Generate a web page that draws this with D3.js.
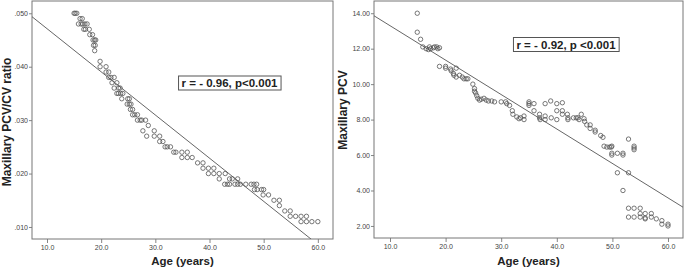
<!DOCTYPE html>
<html>
<head>
<meta charset="utf-8">
<script src="https://cdn.jsdelivr.net/npm/d3@7"></script>
<style>
  body { margin: 0; background: #fff; }
  svg { display: block; font-family: "Liberation Sans", Arial, sans-serif; }
</style>
</head>
<body>
<svg id="chart" width="685" height="268"></svg>
<script>
// Shared x axis
const xTicks = [10, 20, 30, 40, 50, 60];

// Left panel: Maxillary PCV/CV ratio vs age
const ratioTicks = [0.010, 0.020, 0.030, 0.040, 0.050];
const ratioPoints = [
  [15.0, .050], [15.2, .050], [15.5, .050],
  [16.1, .049], [16.5, .049],
  [15.8, .048], [16.3, .048], [16.6, .048], [17.0, .048], [17.4, .048],
  [16.8, .047], [17.1, .047], [17.8, .047],
  [17.9, .046], [18.4, .046],
  [18.5, .045], [18.8, .045], [19.0, .045],
  [18.6, .044], [18.9, .044],
  [18.8, .043],
  [19.8, .041],
  [19.8, .040], [20.9, .040],
  [20.9, .039], [21.4, .039],
  [21.4, .038], [21.8, .038], [22.4, .038],
  [22.0, .037], [22.9, .037],
  [22.4, .036], [23.2, .036], [23.5, .036],
  [22.9, .035], [23.2, .035], [23.6, .035], [24.0, .035],
  [23.8, .034], [24.9, .034], [25.2, .034],
  [24.8, .033], [25.2, .033], [25.5, .033],
  [25.4, .032], [25.8, .032],
  [25.8, .031], [26.2, .031], [26.7, .031],
  [26.7, .030], [27.2, .030], [27.5, .030], [28.2, .030],
  [28.7, .029],
  [27.7, .028], [29.8, .028],
  [28.4, .027], [29.8, .027], [30.8, .027],
  [30.8, .026], [31.4, .026],
  [31.8, .025], [32.2, .025], [32.8, .025],
  [33.4, .024], [33.8, .024], [34.9, .024], [35.9, .024],
  [34.9, .023], [35.9, .023], [36.8, .023],
  [37.8, .022], [38.8, .022],
  [38.8, .021], [39.8, .021], [40.8, .021],
  [39.8, .020], [40.8, .020], [41.8, .020], [42.9, .020],
  [41.8, .019], [43.7, .019], [44.2, .019], [45.2, .019],
  [42.8, .018], [43.3, .018], [43.7, .018], [44.7, .018], [45.2, .018],
  [45.7, .018], [46.7, .018], [47.7, .018], [48.2, .018], [48.7, .018],
  [48.3, .017], [48.8, .017], [49.6, .017], [50.0, .017],
  [49.9, .016], [50.9, .016],
  [51.9, .015], [52.9, .015],
  [52.9, .014],
  [53.9, .013], [54.9, .013],
  [54.9, .012], [55.9, .012], [56.9, .012], [57.9, .012],
  [56.9, .011], [57.9, .011], [58.9, .011], [60.0, .011]
];
const ratioFit = { intercept: 0.0552, slope: -0.000808 };

// Right panel: Maxillary PCV vs age
const pcvTicks = [2, 4, 6, 8, 10, 12, 14];
const pcvPoints = [
  [14.9, 14.0], [14.9, 12.93], [15.5, 12.53], [15.9, 12.1],
  [16.5, 12.0], [16.9, 11.95], [17.1, 12.1], [17.3, 12.0], [17.8, 12.05],
  [18.0, 12.1], [18.4, 12.1], [18.6, 12.0], [18.9, 12.05],
  [18.9, 11.0], [20.0, 11.0], [20.0, 10.9],
  [20.9, 10.85], [21.0, 10.75], [21.4, 10.6], [21.5, 10.5],
  [21.9, 10.9], [21.9, 10.4],
  [22.5, 10.5], [23.0, 10.4], [23.3, 10.3], [23.7, 10.3], [24.0, 10.3],
  [24.9, 10.0], [25.2, 9.75], [25.2, 9.6], [25.4, 9.5],
  [25.6, 9.35], [25.8, 9.2], [26.1, 9.1], [26.4, 9.15], [26.9, 9.2],
  [27.3, 9.1], [27.7, 9.05], [28.3, 9.05], [28.8, 9.0], [30.0, 9.0],
  [30.8, 9.0], [31.0, 8.9],
  [31.5, 8.8], [32.0, 8.5], [32.1, 8.3], [32.8, 8.15], [33.2, 8.05],
  [33.5, 8.1], [34.1, 8.0], [34.1, 8.2],
  [35.0, 9.0], [35.0, 8.9], [35.0, 8.8],
  [35.9, 8.9], [35.9, 8.5],
  [36.9, 8.3], [36.9, 8.1], [37.0, 8.0],
  [37.9, 8.9], [37.9, 8.2], [37.9, 8.0],
  [38.9, 9.05], [39.0, 8.1],
  [40.0, 8.9], [40.0, 8.5], [40.0, 8.0],
  [41.0, 8.95], [41.0, 8.5], [41.0, 8.3],
  [41.9, 8.3], [42.0, 8.1], [42.0, 8.0],
  [43.0, 8.1], [43.5, 8.1], [43.8, 8.1], [44.0, 8.0],
  [44.4, 8.3], [44.9, 8.05], [45.0, 7.9],
  [45.4, 7.7], [46.0, 7.7], [46.0, 7.5],
  [46.9, 7.4], [46.9, 7.3],
  [47.9, 7.1], [48.3, 7.0],
  [48.5, 6.5], [49.0, 6.45], [49.5, 6.45], [49.8, 6.45], [49.9, 6.5],
  [49.9, 6.1], [49.9, 6.0], [50.9, 6.1], [51.9, 6.1], [51.9, 6.0],
  [52.9, 6.9], [53.9, 6.5], [53.9, 6.4], [53.9, 6.3],
  [50.9, 5.0], [52.9, 5.0], [51.9, 4.0],
  [52.9, 3.0], [52.9, 2.5], [53.9, 3.0], [53.9, 2.5],
  [55.0, 3.0], [55.0, 2.7], [55.0, 2.5],
  [55.9, 2.7], [55.9, 2.45], [55.9, 2.4],
  [57.0, 2.7], [57.0, 2.5], [57.9, 2.4],
  [58.9, 2.3], [58.9, 2.1], [60.0, 2.1], [60.0, 2.0]
];
const pcvFit = { intercept: 15.24, slope: -0.1943 };

const svg = d3.select('#chart');

function drawPanel(cfg) {
  const x = d3.scaleLinear().domain(cfg.xDomain).range([cfg.left, cfg.right]);
  const y = d3.scaleLinear().domain(cfg.yDomain).range([cfg.bottom, cfg.top]);
  const g = svg.append('g');

  // clip for the fit line
  const clipId = 'clip-' + cfg.id;
  g.append('clipPath').attr('id', clipId)
    .append('rect')
      .attr('x', cfg.left).attr('y', cfg.top)
      .attr('width', cfg.right - cfg.left).attr('height', cfg.bottom - cfg.top);

  // x axis
  const xAxis = g.append('g')
      .attr('transform', `translate(0,${cfg.bottom})`)
      .call(d3.axisBottom(x).tickValues(xTicks).tickFormat(d3.format('.1f')).tickSize(4).tickSizeOuter(0).tickPadding(2));
  xAxis.select('.domain').remove();

  // y axis
  const yAxis = g.append('g')
      .attr('transform', `translate(${cfg.left},0)`)
      .call(d3.axisLeft(y).tickValues(cfg.yTicks).tickFormat(cfg.yFormat).tickSize(3).tickSizeOuter(0).tickPadding(1));
  yAxis.select('.domain').remove();

  g.selectAll('.tick line').attr('stroke', '#666').attr('stroke-width', 0.8);
  g.selectAll('.tick text').attr('fill', '#444').style('font-size', '7px');

  // frame
  g.append('rect')
      .attr('x', cfg.left).attr('y', cfg.top)
      .attr('width', cfg.right - cfg.left).attr('height', cfg.bottom - cfg.top)
      .attr('fill', 'none').attr('stroke', '#777').attr('stroke-width', 1);

  // fit line
  const x0 = cfg.xDomain[0], x1 = cfg.xDomain[1];
  g.append('line')
      .attr('clip-path', `url(#${clipId})`)
      .attr('x1', x(x0)).attr('y1', y(cfg.fit.intercept + cfg.fit.slope * x0))
      .attr('x2', x(x1)).attr('y2', y(cfg.fit.intercept + cfg.fit.slope * x1))
      .attr('stroke', '#555').attr('stroke-width', 0.9);

  // points
  g.append('g').selectAll('circle')
    .data(cfg.points)
    .join('circle')
      .attr('cx', d => x(d[0]))
      .attr('cy', d => y(d[1]))
      .attr('r', 2.2)
      .attr('fill', 'none')
      .attr('stroke', '#555')
      .attr('stroke-width', 0.8);

  // annotation box
  const note = g.append('g');
  const t = note.append('text')
      .attr('x', cfg.note.x).attr('y', cfg.note.y)
      .attr('text-anchor', 'middle')
      .style('font-size', '11.5px').style('font-weight', 'bold')
      .attr('fill', '#222')
      .text(cfg.note.text);
  const bb = t.node().getBBox();
  note.insert('rect', 'text')
      .attr('x', bb.x - 3).attr('y', bb.y - 1)
      .attr('width', bb.width + 6).attr('height', bb.height + 2)
      .attr('fill', '#fff').attr('stroke', '#555').attr('stroke-width', 1);

  // axis titles
  g.append('text')
      .attr('x', (cfg.left + cfg.right) / 2).attr('y', 265)
      .attr('text-anchor', 'middle')
      .style('font-size', '11.5px').style('font-weight', 'bold').attr('fill', '#222')
      .text('Age (years)');
  g.append('text')
      .attr('transform', `translate(${cfg.yTitleX},${cfg.yTitleY}) rotate(-90)`)
      .attr('text-anchor', 'middle')
      .style('font-size', '12px').style('font-weight', 'bold').attr('fill', '#222')
      .text(cfg.yTitle);
}

drawPanel({
  id: 'ratio',
  left: 32, right: 333, top: 1, bottom: 239,
  xDomain: [7.23, 62.8], yDomain: [0.00775, 0.0523],
  yTicks: ratioTicks,
  yFormat: d => d3.format('.3f')(d).replace(/^0/, ''),
  points: ratioPoints, fit: ratioFit,
  note: { x: 229.5, y: 87, text: 'r = - 0.96, p<0.001' },
  yTitle: 'Maxillary PCV/CV ratio', yTitleX: 11, yTitleY: 122
});

drawPanel({
  id: 'pcv',
  left: 374, right: 683, top: 1, bottom: 238,
  xDomain: [7.12, 62.7], yDomain: [1.32, 14.69],
  yTicks: pcvTicks,
  yFormat: d3.format('.2f'),
  points: pcvPoints, fit: pcvFit,
  note: { x: 566, y: 48.5, text: 'r = - 0.92, p <0.001' },
  yTitle: 'Maxillary PCV', yTitleX: 347, yTitleY: 110
});
</script>
</body>
</html>
